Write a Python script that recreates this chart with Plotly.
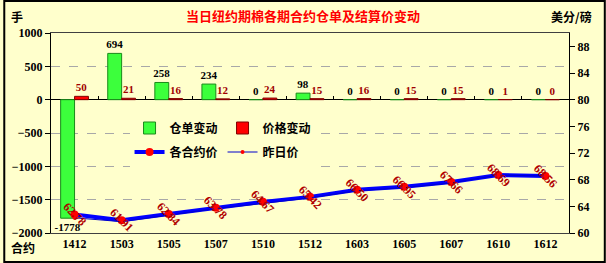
import plotly.graph_objects as go

categories = ["1412", "1503", "1505", "1507", "1510", "1512", "1603", "1605", "1607", "1610", "1612"]
warrant_change = [-1778, 694, 258, 234, 0, 98, 0, 0, 0, 0, 0]
price_change = [50, 21, 16, 12, 24, 15, 16, 15, 15, 1, 0]
settle_price = [62.78, 61.91, 62.84, 63.78, 64.67, 65.42, 66.50, 66.95, 67.66, 68.69, 68.56]
prev_price = [62.28, 61.70, 62.68, 63.66, 64.43, 65.27, 66.34, 66.80, 67.51, 68.68, 68.56]
left_ticks = [1000, 500, 0, -500, -1000, -1500, -2000]
right_ticks = [60, 64, 68, 72, 76, 80, 84, 88]

BG = "#FFFFCC"
W, H = 606, 263
ML, MR, MT, MB = 48, 37, 33, 30
PW, PH = W - ML - MR, H - MT - MB
NUM_FONT = "Liberation Serif"
CJK = "Noto Sans CJK SC"

fig = go.Figure()
fig.add_trace(go.Bar(
    x=categories, y=warrant_change, name="仓单变动",
    marker=dict(color="#3CFF3C", line=dict(color="#1A8A1A", width=1)),
    text=[str(v) for v in warrant_change], textposition="outside",
    textfont=dict(color="black", size=11, family=NUM_FONT, weight="bold"),
    constraintext="none", cliponaxis=False, legend="legend"))
fig.add_trace(go.Bar(
    x=categories, y=price_change, name="价格变动",
    marker=dict(color="#FF0000", line=dict(color="#800000", width=1)),
    text=[str(v) for v in price_change], textposition="outside",
    textfont=dict(color="#A00000", size=11, family=NUM_FONT, weight="bold"),
    constraintext="none", cliponaxis=False, legend="legend"))
fig.add_trace(go.Scatter(
    x=categories, y=prev_price, name="昨日价", mode="lines+markers",
    line=dict(color="#0000CC", width=1),
    marker=dict(color="#FF0000", size=4),
    xaxis="x2", yaxis="y2", legend="legend2", legendrank=2))
fig.add_trace(go.Scatter(
    x=categories, y=settle_price, name="各合约价", mode="lines+markers",
    line=dict(color="#0000FF", width=4),
    marker=dict(color="#FF0000", size=8),
    yaxis="y2", legend="legend2", legendrank=1))

for i, v in enumerate(settle_price):
    fig.add_annotation(x=i, y=v, xref="x", yref="y2", text=f"{v:.2f}",
                       textangle=45, showarrow=False,
                       xanchor="center", yanchor="middle",
                       font=dict(color="#B00000", size=12, family=NUM_FONT, weight="bold"))

axis_font = dict(family=NUM_FONT, size=12, color="black", weight="bold")
legend_font = dict(family=CJK, size=12, color="black", weight="bold")
fig.update_layout(
    width=W, height=H,
    margin=dict(l=ML, r=MR, t=MT, b=MB),
    paper_bgcolor=BG, plot_bgcolor=BG,
    barmode="group", bargap=0.41, bargroupgap=0,
    title=dict(text="当日纽约期棉各期合约仓单及结算价变动", x=0.5, xanchor="center",
               y=1 - 16 / H, yanchor="middle",
               font=dict(family=CJK, size=13, color="#FF0000", weight="bold")),
    xaxis=dict(type="category", categoryarray=categories, range=[-0.5, 10.5],
               showline=True, linecolor="#404040", linewidth=1, mirror=True,
               ticks="", tickfont=axis_font, showgrid=False),
    xaxis2=dict(type="category", categoryarray=categories, range=[-0.5, 10.5],
                overlaying="x", anchor="free", position=2 / 3,
                showticklabels=False, ticks="inside", tickson="boundaries",
                ticklen=4, tickcolor="black", showline=False, showgrid=False),
    yaxis=dict(range=[-2000, 1000], tickvals=left_ticks,
               ticktext=[str(v).replace("-", "−") for v in left_ticks],
               showline=True, linecolor="black", linewidth=1,
               ticks="outside", ticklen=5, tickcolor="black",
               tickfont=axis_font,
               showgrid=True, gridcolor="#A8A8A8", griddash="dash", gridwidth=1,
               zeroline=True, zerolinecolor="black", zerolinewidth=1),
    yaxis2=dict(range=[60, 90], tickvals=right_ticks, overlaying="y", side="right",
                showline=True, linecolor="black", linewidth=1,
                ticks="outside", ticklen=5, tickcolor="black",
                tickfont=axis_font, showgrid=False, zeroline=False),
    legend=dict(orientation="h", x=(127 - ML) / PW, xanchor="left",
                y=(MT + PH - 128) / PH, yanchor="middle",
                bgcolor=BG, entrywidth=48, entrywidthmode="pixels",
                font=legend_font, traceorder="normal", itemwidth=30),
    legend2=dict(orientation="h", x=(127 - ML) / PW, xanchor="left",
                 y=(MT + PH - 152) / PH, yanchor="middle",
                 bgcolor=BG, entrywidth=48, entrywidthmode="pixels",
                 font=legend_font, traceorder="normal", itemwidth=30),
    showlegend=True,
)

fig.add_annotation(text="手", xref="paper", yref="paper",
                   x=(14 - ML) / PW, y=(MT + PH - 16) / PH, showarrow=False,
                   xanchor="center", yanchor="middle",
                   font=dict(family=CJK, size=12, color="black", weight="bold"))
fig.add_annotation(text="美分/磅", xref="paper", yref="paper",
                   x=(572 - ML) / PW, y=(MT + PH - 17) / PH, showarrow=False,
                   xanchor="center", yanchor="middle",
                   font=dict(family=CJK, size=12, color="black", weight="bold"))
fig.add_annotation(text="合约", xref="paper", yref="paper",
                   x=(20 - ML) / PW, y=(MT + PH - 247) / PH, showarrow=False,
                   xanchor="center", yanchor="middle",
                   font=dict(family=CJK, size=12, color="black", weight="bold"))

fig.add_shape(type="rect", xref="paper", yref="paper",
              x0=(1 - ML) / PW, x1=(W - 1 - ML) / PW,
              y0=(MT + PH - (H - 1)) / PH, y1=(MT + PH - 1) / PH,
              line=dict(color="black", width=2), fillcolor="rgba(0,0,0,0)", layer="above")

fig.write_html("out.html")
